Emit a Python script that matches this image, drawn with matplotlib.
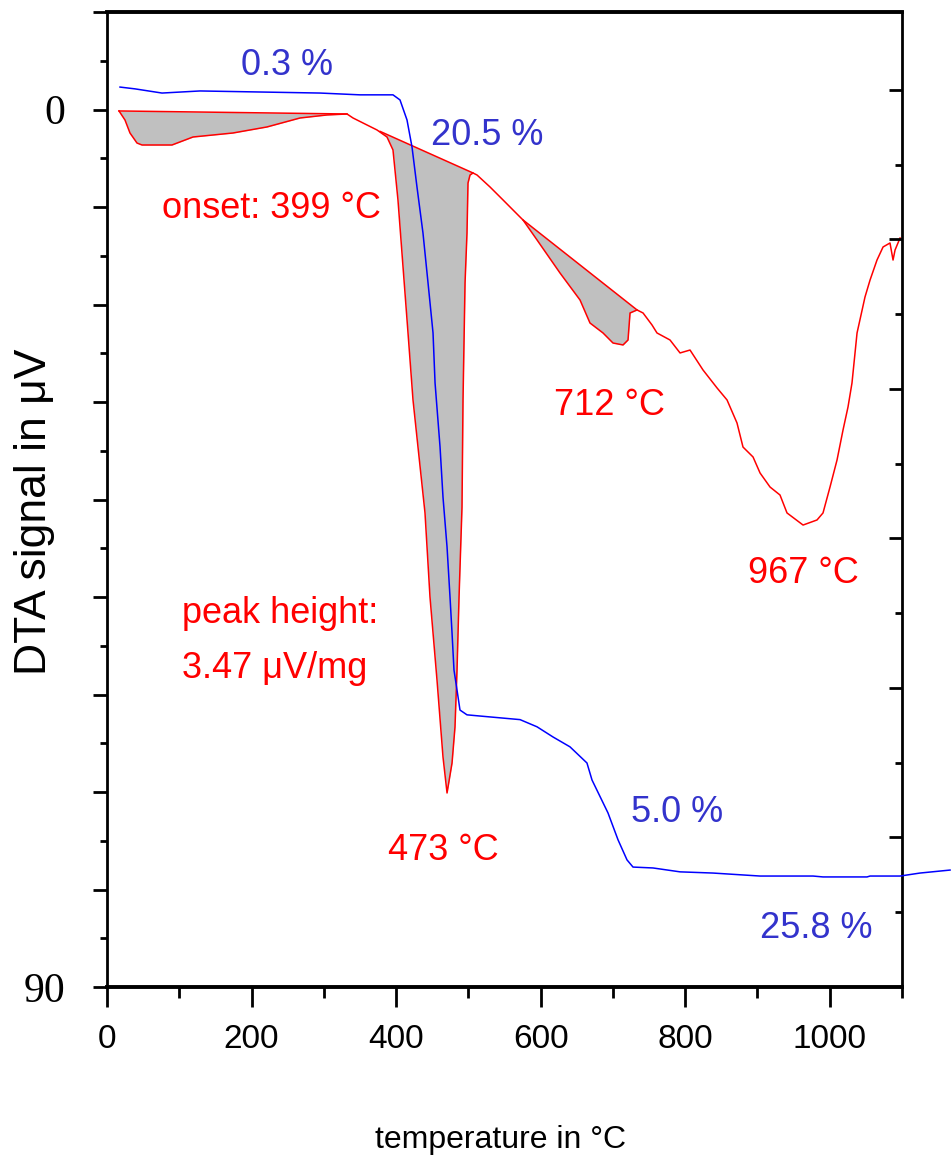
import matplotlib.pyplot as plt
import numpy as np

plt.rcParams['font.family'] = ['Liberation Sans', 'DejaVu Sans']

# DTA curve (temperature in degC, signal in uV, downward = endothermic)
dta_T = [16.6, 24.9, 31.8, 41.5, 48.4, 89.9, 119.0, 174.3, 221.4, 267.1, 304.4, 332.1,
         340.4, 359.8, 373.6, 387.4, 395.7, 402.6, 409.6, 416.5, 423.4, 430.3, 440.0,
         446.9, 456.6, 464.9, 470.5, 477.4, 481.5, 484.3, 487.1, 491.2, 492.6, 495.4,
         498.1, 499.5, 502.3, 506.4, 512.0, 530.0, 548.0, 571.5, 575.6, 595.0, 626.8,
         654.5, 668.3, 686.3, 700.1, 714.0, 720.9, 723.7, 733.4, 741.7, 754.1, 761.0,
         779.0, 792.9, 806.7, 824.7, 844.1, 857.9, 871.7, 880.0, 893.9, 903.6, 917.4,
         931.2, 940.9, 963.1, 982.4, 990.7, 1000.4, 1010.1, 1018.4, 1025.3, 1030.8,
         1037.8, 1048.8, 1055.8, 1065.4, 1073.8, 1083.4, 1087.6, 1090.4, 1097.3]
dta_uV = [0.15, 1.08, 2.41, 3.44, 3.64, 3.64, 2.82, 2.41, 1.79, 0.87, 0.56, 0.46,
          0.87, 1.59, 2.10, 2.82, 4.15, 9.28, 16.15, 22.92, 29.79, 34.62, 41.38,
          50.0, 58.51, 66.41, 70.10, 67.03, 63.33, 57.49, 50.0, 40.77, 29.79, 17.79,
          12.67, 7.54, 6.72, 6.51, 6.72, 7.95, 9.28, 11.03, 11.33, 13.38, 16.77,
          19.54, 21.90, 22.92, 23.95, 24.15, 23.64, 20.87, 20.56, 20.87, 22.10, 22.92,
          23.64, 24.97, 24.67, 26.72, 28.56, 29.79, 32.15, 34.62, 35.64, 37.28, 38.72,
          39.54, 41.38, 42.62, 42.10, 41.38, 38.72, 35.95, 32.87, 30.51, 28.05,
          22.92, 19.23, 17.49, 15.44, 14.10, 13.69, 15.44, 14.41, 13.18]

# integration baselines of the three peaks
base1_T, base1_uV = [16.6, 332.1], [0.15, 0.46]
base2_T, base2_uV = [378.0, 506.4], [2.25, 6.51]
base3_T, base3_uV = [575.6, 733.4], [11.33, 20.56]

# TG curve (mass in %)
tg_T = [18.0, 38.7, 76.1, 128.7, 294.7, 350.1, 395.7, 405.4, 415.1, 422.0, 428.9,
        437.2, 444.2, 451.1, 453.9, 460.8, 464.9, 470.5, 474.6, 477.4, 480.1, 484.3,
        488.4, 498.1, 516.1, 571.5, 595.0, 617.1, 640.6, 664.1, 671.1, 693.2, 707.1,
        719.5, 727.8, 755.5, 792.9, 838.5, 903.6, 976.9, 990.7, 1051.6, 1055.8,
        1097.3, 1124.9, 1166.5]
tg_pct = [100.09, 100.03, 99.89, 99.96, 99.89, 99.83, 99.83, 99.66, 98.99, 98.09, 96.75,
          95.21, 93.54, 91.87, 90.20, 88.06, 86.38, 84.71, 83.04, 81.84, 80.60, 79.93,
          79.26, 79.10, 79.06, 78.94, 78.70, 78.36, 78.03, 77.49, 76.92, 75.82, 74.92,
          74.25, 74.01, 73.98, 73.85, 73.81, 73.71, 73.71, 73.68, 73.68, 73.71,
          73.71, 73.81, 73.91]

red = '#ff0000'
blue_txt = '#3333cc'

fig = plt.figure(figsize=(9.51, 11.57), dpi=100)
ax = fig.add_axes([107 / 951, 170 / 1157, 795 / 951, 975 / 1157])

T = np.array(dta_T)
V = np.array(dta_uV)
for bT, bV in [(base1_T, base1_uV), (base2_T, base2_uV), (base3_T, base3_uV)]:
    m = (T >= bT[0]) & (T <= bT[1])
    seg_T = np.concatenate([[bT[0]], T[m], [bT[1]]])
    seg_V = np.concatenate([[np.interp(bT[0], T, V)], V[m], [np.interp(bT[1], T, V)]])
    ax.fill_between(seg_T, seg_V, np.interp(seg_T, bT, bV), color='#c0c0c0', lw=0)
    ax.plot(bT, bV, color=red, lw=1.1)
ax.plot(T, V, color=red, lw=1.1)

ax.set_xlim(0, 1100)
ax.set_ylim(90, -10)
ax.set_xticks(range(0, 1001, 200))
ax.set_xticks(range(100, 1101, 200), minor=True)
ax.set_yticks(range(-10, 91, 10))
ax.set_yticklabels(['', '0'] + [''] * 8 + ['90'])
ax.set_yticks(range(-5, 90, 10), minor=True)
ax.tick_params(axis='x', which='major', length=14.4, width=2, pad=12, labelsize=24)
ax.tick_params(axis='x', which='minor', length=8, width=2)
ax.tick_params(axis='y', which='major', length=10, width=2, pad=20, labelsize=30)
ax.tick_params(axis='y', which='minor', length=5, width=2)
for lbl in ax.get_yticklabels():
    lbl.set_fontfamily('Liberation Serif')
for side in ['top', 'bottom']:
    ax.spines[side].set_linewidth(2.8)
for side in ['left', 'right']:
    ax.spines[side].set_linewidth(2)

ax2 = ax.twinx()
ax2.plot(tg_T, tg_pct, color='#0000ff', lw=1.1, clip_on=False)
ax2.set_ylim(70, 102.6)
ax2.set_yticks([75, 80, 85, 90, 95, 100])
ax2.set_yticks([72.5, 77.5, 82.5, 87.5, 92.5, 97.5], minor=True)
ax2.tick_params(axis='y', which='major', direction='in', length=9.4, width=2, labelright=False)
ax2.tick_params(axis='y', which='minor', direction='in', length=5, width=2)
for s in ax2.spines.values():
    s.set_visible(False)

# annotations
fs = 26
ax.text(249, -3.54, '0.3 %', color=blue_txt, fontsize=fs, ha='center', va='baseline')
ax.text(526, 3.64, '20.5 %', color=blue_txt, fontsize=fs, ha='center', va='baseline')
ax.text(789, 73.1, '5.0 %', color=blue_txt, fontsize=fs, ha='center', va='baseline')
ax.text(981, 84.97, '25.8 %', color=blue_txt, fontsize=fs, ha='center', va='baseline')
ax.text(228, 11.1, 'onset: 399 °C', color=red, fontsize=fs, ha='center', va='baseline')
ax.text(695, 31.3, '712 °C', color=red, fontsize=fs, ha='center', va='baseline')
ax.text(963, 48.6, '967 °C', color=red, fontsize=fs, ha='center', va='baseline')
ax.text(466, 77.0, '473 °C', color=red, fontsize=fs, ha='center', va='baseline')
ax.text(104, 52.7, 'peak height:', color=red, fontsize=fs, ha='left', va='baseline')
ax.text(104, 58.3, '3.47 μV/mg', color=red, fontsize=fs, ha='left', va='baseline')

fig.text(35 / 951, 1 - 512 / 1157, 'DTA signal in μV', rotation=90, fontsize=32,
         ha='center', va='center')
fig.text(501 / 951, 9 / 1157, 'temperature in °C', fontsize=23, ha='center', va='baseline')

fig.savefig('out.png', dpi=100)
